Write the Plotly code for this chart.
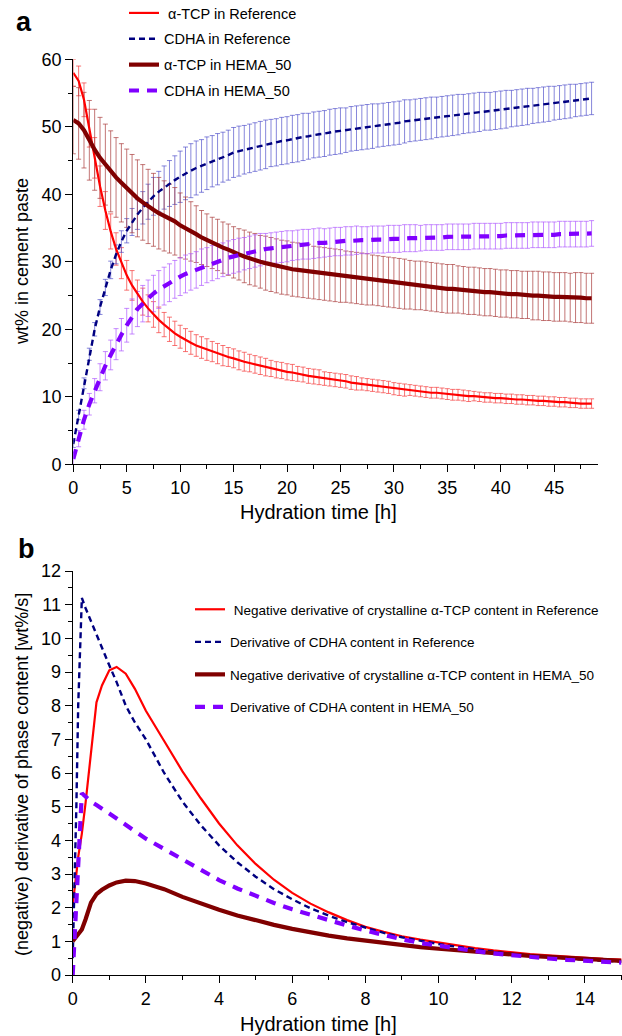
import plotly.graph_objects as go

# ---------------- top panel (a): phase content ----------------
t_top = [0, 0.5, 1, 1.5, 2, 2.5, 3, 3.5, 4, 4.5,
         5, 5.5, 6, 6.5, 7, 7.5, 8, 8.5, 9, 9.5,
         10, 10.5, 11, 11.5, 12, 12.5, 13, 13.5, 14, 14.5,
         15, 15.5, 16, 16.5, 17, 17.5, 18, 18.5, 19, 19.5,
         20, 20.5, 21, 21.5, 22, 22.5, 23, 23.5, 24, 24.5,
         25, 25.5, 26, 26.5, 27, 27.5, 28, 28.5, 29, 29.5,
         30, 30.5, 31, 31.5, 32, 32.5, 33, 33.5, 34, 34.5,
         35, 35.5, 36, 36.5, 37, 37.5, 38, 38.5, 39, 39.5,
         40, 40.5, 41, 41.5, 42, 42.5, 43, 43.5, 44, 44.5,
         45, 45.5, 46, 46.5, 47, 47.5, 48, 48.5]

tcp_ref = [58.0, 56.8, 54.0, 49.8, 45.4, 41.2, 37.6, 34.5, 31.9, 29.8,
           28.0, 26.5, 25.2, 24.1, 23.1, 22.2, 21.4, 20.7, 20.0, 19.4,
           18.9, 18.4, 18.0, 17.6, 17.3, 17.0, 16.7, 16.4, 16.1, 15.9,
           15.7, 15.4, 15.2, 15.0, 14.8, 14.6, 14.4, 14.2, 14.0, 13.9,
           13.7, 13.6, 13.4, 13.3, 13.1, 13.0, 12.9, 12.7, 12.6, 12.5,
           12.4, 12.3, 12.1, 12.0, 11.9, 11.8, 11.7, 11.6, 11.5, 11.4,
           11.2, 11.1, 11.0, 11.0, 10.9, 10.8, 10.7, 10.6, 10.6, 10.5,
           10.4, 10.3, 10.3, 10.2, 10.1, 10.1, 10.0, 9.9, 9.9, 9.8,
           9.8, 9.7, 9.7, 9.6, 9.6, 9.5, 9.5, 9.4, 9.4, 9.3,
           9.3, 9.2, 9.2, 9.1, 9.1, 9.0, 9.0, 9.0]
tcp_ref_err = [2.0, 2.2, 2.5, 2.8, 3.0, 3.0, 2.8, 2.6, 2.4, 2.3,
               2.2, 2.2, 2.1, 2.0, 2.0, 1.9, 1.9, 1.8, 1.8, 1.8,
               1.7, 1.7, 1.7, 1.6, 1.6, 1.6, 1.5, 1.5, 1.5, 1.4,
               1.4, 1.4, 1.4, 1.3, 1.3, 1.3, 1.3, 1.2, 1.2, 1.2,
               1.2, 1.2, 1.1, 1.1, 1.1, 1.1, 1.1, 1.0, 1.0, 1.0,
               1.0, 1.0, 1.0, 1.0, 0.9, 0.9, 0.9, 0.9, 0.9, 0.9,
               0.9, 0.9, 0.9, 0.8, 0.8, 0.8, 0.8, 0.8, 0.8, 0.8,
               0.8, 0.8, 0.8, 0.8, 0.8, 0.7, 0.7, 0.7, 0.7, 0.7,
               0.7, 0.7, 0.7, 0.7, 0.7, 0.7, 0.7, 0.7, 0.7, 0.7,
               0.7, 0.7, 0.7, 0.7, 0.7, 0.7, 0.7, 0.7]

cdha_ref = [3.0, 7.3, 12.0, 16.3, 20.0, 23.3, 26.2, 28.8, 31.1, 33.0,
            34.6, 35.9, 37.0, 38.0, 38.9, 39.7, 40.4, 41.0, 41.6, 42.1,
            42.6, 43.1, 43.5, 43.9, 44.2, 44.6, 44.9, 45.2, 45.5, 45.8,
            46.2, 46.4, 46.6, 46.8, 47.0, 47.2, 47.4, 47.6, 47.7, 47.9,
            48.0, 48.2, 48.3, 48.5, 48.6, 48.8, 48.9, 49.0, 49.2, 49.3,
            49.4, 49.5, 49.7, 49.8, 49.9, 50.0, 50.1, 50.2, 50.3, 50.4,
            50.5, 50.6, 50.8, 50.9, 51.0, 51.1, 51.2, 51.3, 51.4, 51.5,
            51.6, 51.7, 51.8, 51.9, 52.0, 52.1, 52.2, 52.3, 52.3, 52.4,
            52.5, 52.6, 52.7, 52.8, 52.9, 53.0, 53.1, 53.2, 53.3, 53.4,
            53.5, 53.6, 53.7, 53.8, 53.9, 54.0, 54.1, 54.2]
cdha_ref_err = [0.5, 0.7, 0.8, 0.9, 1.0, 1.1, 1.2, 1.3, 1.4, 1.6,
                1.8, 2.0, 2.2, 2.4, 2.6, 2.8, 3.0, 3.2, 3.4, 3.6,
                3.8, 3.9, 4.0, 4.0, 3.9, 3.9, 3.8, 3.8, 3.7, 3.7,
                3.7, 3.7, 3.6, 3.6, 3.6, 3.6, 3.6, 3.5, 3.5, 3.5,
                3.5, 3.5, 3.5, 3.5, 3.4, 3.4, 3.4, 3.4, 3.4, 3.4,
                3.4, 3.3, 3.3, 3.3, 3.3, 3.3, 3.3, 3.2, 3.2, 3.2,
                3.2, 3.2, 3.2, 3.1, 3.1, 3.1, 3.1, 3.1, 3.0, 3.0,
                3.0, 3.0, 3.0, 2.9, 2.9, 2.9, 2.9, 2.8, 2.8, 2.8,
                2.8, 2.8, 2.7, 2.7, 2.7, 2.7, 2.6, 2.6, 2.6, 2.6,
                2.5, 2.5, 2.5, 2.5, 2.4, 2.4, 2.4, 2.4]

tcp_hema = [51.0, 50.5, 49.5, 48.0, 46.6, 45.4, 44.4, 43.4, 42.5, 41.7,
            40.9, 40.1, 39.4, 38.8, 38.2, 37.7, 37.2, 36.8, 36.4, 36.0,
            35.4, 35.0, 34.5, 34.1, 33.6, 33.2, 32.8, 32.5, 32.1, 31.8,
            31.4, 31.1, 30.8, 30.5, 30.3, 30.0, 29.8, 29.6, 29.4, 29.2,
            29.1, 28.9, 28.8, 28.7, 28.6, 28.4, 28.3, 28.2, 28.1, 28.0,
            27.9, 27.8, 27.7, 27.6, 27.5, 27.4, 27.3, 27.2, 27.1, 27.0,
            26.9, 26.8, 26.7, 26.6, 26.5, 26.5, 26.4, 26.3, 26.2, 26.1,
            26.0, 26.0, 25.9, 25.8, 25.7, 25.7, 25.6, 25.5, 25.5, 25.4,
            25.3, 25.3, 25.2, 25.2, 25.1, 25.1, 25.0, 25.0, 24.9, 24.9,
            24.8, 24.8, 24.8, 24.7, 24.7, 24.7, 24.6, 24.6]
tcp_hema_err = [5.0, 5.3, 5.6, 5.9, 6.0, 6.0, 6.0, 6.0, 5.9, 5.8,
                5.8, 5.8, 5.7, 5.6, 5.5, 5.4, 5.3, 5.2, 5.1, 5.0,
                4.8, 4.6, 4.4, 4.2, 4.0, 3.9, 3.8, 3.8, 3.8, 3.8,
                3.8, 3.8, 3.9, 3.9, 3.9, 3.9, 4.0, 4.0, 4.0, 4.0,
                4.0, 4.0, 4.0, 4.0, 4.0, 3.9, 3.9, 3.9, 3.9, 3.9,
                3.9, 3.8, 3.8, 3.8, 3.8, 3.8, 3.7, 3.7, 3.7, 3.7,
                3.7, 3.7, 3.7, 3.6, 3.6, 3.6, 3.6, 3.6, 3.6, 3.6,
                3.6, 3.6, 3.5, 3.5, 3.5, 3.5, 3.5, 3.5, 3.5, 3.5,
                3.5, 3.5, 3.5, 3.5, 3.5, 3.5, 3.6, 3.6, 3.6, 3.6,
                3.6, 3.6, 3.6, 3.6, 3.7, 3.7, 3.7, 3.7]

cdha_hema = [0.8, 3.8, 6.6, 8.9, 10.9, 12.9, 14.6, 16.2, 17.8, 19.2,
             20.6, 21.9, 23.0, 23.8, 24.6, 25.3, 25.9, 26.4, 26.9, 27.4,
             27.8, 28.2, 28.5, 28.8, 29.2, 29.5, 29.8, 30.1, 30.3, 30.6,
             30.8, 31.0, 31.2, 31.4, 31.6, 31.8, 31.9, 32.0, 32.1, 32.2,
             32.3, 32.4, 32.5, 32.6, 32.6, 32.7, 32.8, 32.8, 32.9, 33.0,
             33.0, 33.1, 33.1, 33.2, 33.2, 33.2, 33.3, 33.3, 33.3, 33.4,
             33.4, 33.4, 33.5, 33.5, 33.5, 33.5, 33.6, 33.6, 33.6, 33.6,
             33.7, 33.7, 33.7, 33.7, 33.7, 33.8, 33.8, 33.8, 33.8, 33.8,
             33.8, 33.9, 33.9, 33.9, 33.9, 33.9, 34.0, 34.0, 34.0, 34.0,
             34.0, 34.1, 34.1, 34.1, 34.1, 34.1, 34.1, 34.2]
cdha_hema_err = [1.0, 1.2, 1.4, 1.6, 1.8, 2.0, 2.1, 2.2, 2.3, 2.4,
                 2.5, 2.6, 2.6, 2.7, 2.7, 2.7, 2.8, 2.8, 2.8, 2.8,
                 2.8, 2.8, 2.7, 2.7, 2.7, 2.6, 2.6, 2.6, 2.5, 2.5,
                 2.5, 2.5, 2.4, 2.4, 2.4, 2.4, 2.3, 2.3, 2.3, 2.3,
                 2.3, 2.2, 2.2, 2.2, 2.2, 2.2, 2.2, 2.1, 2.1, 2.1,
                 2.1, 2.1, 2.1, 2.1, 2.0, 2.0, 2.0, 2.0, 2.0, 2.0,
                 2.0, 2.0, 2.0, 2.0, 2.0, 1.9, 1.9, 1.9, 1.9, 1.9,
                 1.9, 1.9, 1.9, 1.9, 1.9, 1.9, 1.9, 1.9, 1.9, 1.9,
                 1.9, 1.9, 1.9, 1.9, 1.9, 1.9, 1.9, 1.9, 1.9, 1.9,
                 1.9, 1.9, 1.9, 1.9, 1.9, 1.9, 1.9, 1.9]

# ---------------- bottom panel (b): derivatives ----------------
t_bot = [0, 0.05, 0.1, 0.15, 0.25, 0.35, 0.5, 0.65, 0.8, 1.0,
         1.2, 1.45, 1.7, 2.0, 2.5, 3.0, 3.5, 4.0, 4.5, 5.0,
         5.5, 6.0, 6.5, 7.0, 7.5, 8.0, 8.5, 9.0, 9.5, 10.0,
         10.5, 11.0, 11.5, 12.0, 12.5, 13.0, 13.5, 14.0, 14.5, 15.0]
d_tcp_ref = [2.1, 2.5, 3.0, 3.5, 4.2, 5.1, 6.6, 8.1, 8.6, 9.05,
             9.15, 8.95, 8.5, 7.85, 6.95, 6.05, 5.25, 4.5, 3.85, 3.3,
             2.83, 2.44, 2.12, 1.86, 1.63, 1.43, 1.28, 1.15, 1.05, 0.96,
             0.88, 0.8, 0.73, 0.67, 0.62, 0.58, 0.54, 0.51, 0.48, 0.46]
d_cdha_ref = [0.5, 2.5, 5.0, 8.0, 11.2, 10.9, 10.5, 10.1, 9.7, 9.2,
              8.7, 8.0, 7.5, 7.0, 6.0, 5.15, 4.45, 3.85, 3.35, 2.92,
              2.55, 2.25, 1.98, 1.76, 1.57, 1.4, 1.25, 1.12, 1.01, 0.92,
              0.84, 0.76, 0.69, 0.63, 0.58, 0.53, 0.49, 0.45, 0.42, 0.40]
d_tcp_hema = [1.0, 1.08, 1.15, 1.22, 1.35, 1.65, 2.15, 2.4, 2.53, 2.66,
              2.75, 2.8, 2.79, 2.72, 2.55, 2.32, 2.12, 1.94, 1.77, 1.62,
              1.49, 1.37, 1.26, 1.17, 1.09, 1.02, 0.95, 0.89, 0.83, 0.78,
              0.73, 0.69, 0.65, 0.61, 0.57, 0.54, 0.5, 0.47, 0.45, 0.42]
d_cdha_hema = [0.0, 1.1, 2.2, 3.3, 5.4, 5.3, 5.15, 5.05, 4.93, 4.8,
               4.65, 4.45, 4.27, 4.05, 3.75, 3.43, 3.12, 2.82, 2.57, 2.34,
               2.14, 1.95, 1.78, 1.62, 1.47, 1.32, 1.18, 1.06, 0.95, 0.86,
               0.78, 0.71, 0.64, 0.58, 0.53, 0.49, 0.45, 0.42, 0.39, 0.37]

names_top = ["\u00a0\u03b1-TCP in Reference", "CDHA in Reference",
             "\u03b1-TCP in HEMA_50", "CDHA in HEMA_50"]
names_bot = ["\u00a0Negative derivative of crystalline \u03b1-TCP content in Reference",
             "Derivative of CDHA content in Reference",
             "Negative derivative of crystalline \u03b1-TCP content in HEMA_50",
             "Derivative of CDHA content in HEMA_50"]

FONT = "Liberation Sans, Arial, sans-serif"
W, H = 622, 1036

line_styles = [dict(color="#ff0000", width=2.2),
               dict(color="#000080", width=2.4, dash="6px,4px"),
               dict(color="#800000", width=4.2),
               dict(color="#8000ff", width=4.2, dash="10px,8px")]
err_colors = ["rgba(245,70,70,0.75)", "rgba(70,70,200,0.65)",
              "rgba(170,60,60,0.7)", "rgba(175,90,255,0.7)"]

top_series = [tcp_ref, cdha_ref, tcp_hema, cdha_hema]
top_errs = [tcp_ref_err, cdha_ref_err, tcp_hema_err, cdha_hema_err]
bot_series = [d_tcp_ref, d_cdha_ref, d_tcp_hema, d_cdha_hema]

fig = go.Figure()

# error bars first (underneath all lines)
for ys, es, ec in zip(top_series, top_errs, err_colors):
    fig.add_trace(go.Scatter(
        x=t_top, y=ys, mode="markers",
        marker=dict(size=1, color="rgba(0,0,0,0)"),
        error_y=dict(type="data", array=es, visible=True, color=ec,
                     thickness=1, width=2.5),
        showlegend=False, hoverinfo="skip", cliponaxis=False,
        xaxis="x", yaxis="y"))

for i, (ys, nm, ls) in enumerate(zip(top_series, names_top, line_styles)):
    fig.add_trace(go.Scatter(
        x=t_top, y=ys, mode="lines", name=nm, line=ls,
        legend="legend", legendgroup="a%d" % i, cliponaxis=False,
        xaxis="x", yaxis="y"))

for i, (ys, nm, ls) in enumerate(zip(bot_series, names_bot, line_styles)):
    fig.add_trace(go.Scatter(
        x=t_bot, y=ys, mode="lines", name=nm, line=ls,
        legend="legend2", legendgroup="b%d" % i, cliponaxis=False,
        xaxis="x2", yaxis="y2"))

def px_x(p):
    return p / W

def px_y(p):
    return 1 - p / H

axis_common = dict(showline=True, linecolor="black", linewidth=1.3,
                   ticks="outside", ticklen=7, tickwidth=1.3, tickcolor="black",
                   showgrid=False, zeroline=False, automargin=False,
                   tickfont=dict(family=FONT, size=18, color="black"))
minor_common = dict(ticks="outside", ticklen=4, tickwidth=1.3, tickcolor="black")

fig.update_layout(
    width=W, height=H, margin=dict(l=0, r=0, t=0, b=0, autoexpand=False),
    paper_bgcolor="white", plot_bgcolor="white",
    font=dict(family=FONT, color="black"),
    xaxis=dict(domain=[px_x(73.3), px_x(598)], range=[0, 49.1],
               tick0=0, dtick=5, anchor="y",
               minor=dict(dtick=2.5, **minor_common), **axis_common),
    yaxis=dict(domain=[px_y(464.3), px_y(59.3)], range=[0, 60],
               tick0=0, dtick=10, anchor="x",
               minor=dict(dtick=5, **minor_common), **axis_common),
    xaxis2=dict(domain=[px_x(72.7), px_x(621.5)], range=[0, 15],
                tick0=0, dtick=2, anchor="y2",
                minor=dict(dtick=1, **minor_common), **axis_common),
    yaxis2=dict(domain=[px_y(975), px_y(571)], range=[0, 12],
                tick0=0, dtick=1, anchor="x2",
                minor=dict(dtick=0.5, **minor_common), **axis_common),
    legend=dict(x=px_x(124), y=px_y(-3), xanchor="left", yanchor="top",
                bgcolor="rgba(0,0,0,0)", traceorder="grouped",
                tracegroupgap=4,
                font=dict(family=FONT, size=14.5, color="black")),
    legend2=dict(x=px_x(190), y=px_y(594), xanchor="left", yanchor="top",
                 bgcolor="rgba(0,0,0,0)", traceorder="grouped",
                 tracegroupgap=12,
                 font=dict(family=FONT, size=13.5, color="black")),
)

annots = [
    dict(text="<b>a</b>", x=px_x(24), y=px_y(22), font=dict(size=27)),
    dict(text="<b>b</b>", x=px_x(26), y=px_y(549), font=dict(size=27)),
    dict(text="wt% in cement paste", x=px_x(22), y=px_y(262), textangle=-90,
         font=dict(size=18)),
    dict(text="Hydration time [h]", x=px_x(318), y=px_y(512),
         font=dict(size=20)),
    dict(text="(negative) derivative of phase content [wt%/s]", x=px_x(22),
         y=px_y(775), textangle=-90, font=dict(size=18)),
    dict(text="Hydration time [h]", x=px_x(318), y=px_y(1024),
         font=dict(size=20)),
]
for a in annots:
    a.update(xref="paper", yref="paper", xanchor="center", yanchor="middle",
             showarrow=False)
    a["font"].update(family=FONT, color="black")
fig.update_layout(annotations=annots)

# remove the browser's default 8px page margin so the figure fills the window
fig.write_html("out.html",
               config={"displayModeBar": False},
               post_script="document.body.style.margin='0px';"
                           "document.body.style.overflow='hidden';")
